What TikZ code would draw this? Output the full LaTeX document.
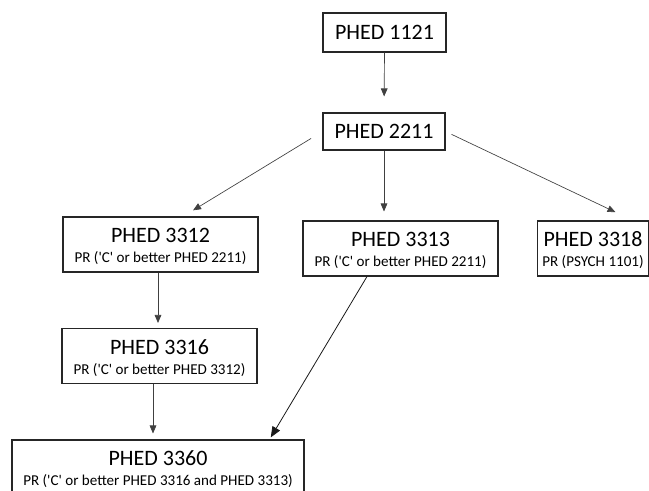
\documentclass[tikz,border=0pt]{standalone}
\usepackage{fontspec}
\setmainfont{Carlito}[Ligatures=TeXOff]
\usetikzlibrary{arrows.meta,calc}
\tikzset{
  course/.style={draw=black!85, line width=0.8pt, fill=white, align=center, inner sep=0pt,
    minimum width=146.25pt, minimum height=41.25pt, font=\fontsize{16.5}{15}\selectfont},
  link/.style={draw=black!75, line width=0.5pt, -{Triangle[length=6pt,width=5pt]}},
  biglink/.style={draw=black!90, line width=0.6pt, -{Triangle[length=8pt,width=6.5pt]}}
}
\newcommand{\prline}[1]{\rule{0pt}{14pt}\\{\fontsize{11.3}{15}\selectfont #1}}
\begin{document}
\begin{tikzpicture}[x=0.75pt,y=-0.75pt]
\useasboundingbox (0,0) rectangle (649,491);
\clip (0,0) rectangle (649,491);
\node[course, minimum width=92.25pt, minimum height=29.25pt] (n1121) at (384.5,32.5) {PHED 1121};
\node[course, minimum width=91.5pt, minimum height=27.75pt] (n2211) at (384,131.5) {PHED 2211};
\node[course] (n3312) at (160.5,244.5) {PHED 3312\prline{PR ('C' or better PHED 2211)}};
\node[course] (n3313) at (400.5,248.5) {PHED 3313\prline{PR ('C' or better PHED 2211)}};
\node[course, minimum width=83.25pt] (n3318) at (593,248.5) {PHED 3318\prline{PR (PSYCH 1101)}};
\node[course] (n3316) at (159.5,356) {PHED 3316\prline{PR ('C' or better PHED 3312)}};
\node[course, minimum width=219pt] (n3360) at (158,467.5) {PHED 3360\prline{PR ('C' or better PHED 3316 and PHED 3313)}};

\coordinate (s3312) at ($(n3312.south)+(-2.5,0)$);
\coordinate (s3316) at ($(n3316.south)+(-6.5,0)$);
\coordinate (t3312) at ($(n3312.north)+(22.5,0)$);
\coordinate (t3318) at ($(n3318.north west)+(96,0)$);
\coordinate (s3313) at ($(n3313.south)+(-33.5,0)$);
\coordinate (t3360) at ($(n3360.north east)+(-35,0)$);

\draw[link, shorten >=12pt] (n1121.south) -- (n2211.north);
\draw[link, shorten >=6.75pt] (n2211.south) -- (n2211.south |- n3313.north);
\draw[link, shorten <=10pt, shorten >=8.8pt] (n2211.west) -- (t3312);
\draw[link, shorten <=5pt, shorten >=14.5pt] (n2211.east) -- (t3318);
\draw[link, shorten >=3.75pt] (s3312) -- (s3312 |- n3316.north);
\draw[link, shorten >=4.5pt] (s3316) -- (s3316 |- n3360.north);
\draw[biglink, shorten >=1.8pt] (s3313) -- (t3360);
\end{tikzpicture}
\end{document}
